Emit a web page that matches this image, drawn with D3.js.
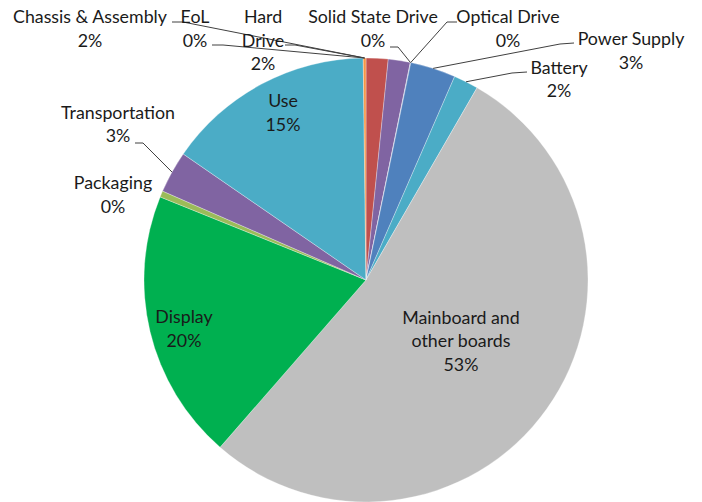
<!DOCTYPE html>
<html>
<head>
<meta charset="UTF-8" />
<title>Laptop impact breakdown</title>
<script src="https://cdn.jsdelivr.net/npm/d3@7"></script>
<style>
  body { margin: 0; background: #fff; }
  #chart text { font-family: 'Lato', 'Open Sans', sans-serif; font-size: 17.8px; fill: #1a1a1a; }
</style>
</head>
<body>
<div id="chart"></div>
<script>
  // slices in clockwise order from 12 o'clock (values in %)
  const categories = ['Chassis & Assembly', 'Hard Drive', 'Solid State Drive', 'Optical Drive',
    'Power Supply', 'Battery', 'Mainboard and other boards', 'Display', 'Packaging',
    'Transportation', 'Use', 'EoL']
  const values = [1.6, 1.6, 0.02, 0.02, 3.3, 1.8, 53.1, 19.7, 0.45, 3.05, 15.2, 0.2]
  const colors = ['#C0504D', '#8064A2', '#8064A2', '#4F81BD', '#4F81BD', '#4BACC6',
    '#BFBFBF', '#00B050', '#9BBB59', '#8064A2', '#4BACC6', '#F79646']
  // how each label is broken into lines
  const labelLines = {
    'Chassis & Assembly': ['Chassis & Assembly'],
    'Hard Drive': ['Hard', 'Drive'],
    'Mainboard and other boards': ['Mainboard and', 'other boards']
  }

  const width = 702, height = 502
  const cx = 366, cy = 280, radius = 222
  const lineH = 23.5

  // label layout: x = centre of text, y = baseline of first line,
  // lead = start of leader line (label side), anchor = slice the line points to
  const layout = {
    'Chassis & Assembly': { x: 90, y: 23, lead: [[172, 22], [183, 22]], anchor: 'EoL' },
    'EoL': { x: 195, y: 23, lead: [[212, 45], [223, 45]], anchor: 'EoL' },
    'Hard Drive': { x: 263, y: 23, lead: [[285, 45], [295, 45]], anchor: 'EoL' },
    'Solid State Drive': { x: 373, y: 23, lead: [[390, 47], [398, 47]], anchor: 'Solid State Drive' },
    'Optical Drive': { x: 508, y: 23, lead: [[457, 22], [447, 22]], anchor: 'Optical Drive' },
    'Power Supply': { x: 631, y: 45, lead: [[574, 43], [560, 44]], anchor: 'Power Supply' },
    'Battery': { x: 559, y: 73.5, lead: [[527, 72], [512, 73]], anchor: 'Battery' },
    'Mainboard and other boards': { x: 461, y: 323.5 },
    'Display': { x: 184, y: 323 },
    'Packaging': { x: 113, y: 189 },
    'Transportation': { x: 118, y: 118.5, lead: [[135, 143], [143, 143]], anchor: 'Transportation' },
    'Use': { x: 283, y: 107 }
  }

  const data = categories.map((c, i) => ({ name: c, value: values[i], color: colors[i] }))

  const svg = d3.select('#chart').append('svg')
    .attr('width', width)
    .attr('height', height)

  const pie = d3.pie().sort(null).value(d => d.value)
  const arcs = pie(data)
  const arc = d3.arc().innerRadius(0).outerRadius(radius)

  const g = svg.append('g').attr('transform', `translate(${cx},${cy})`)

  g.selectAll('path')
    .data(arcs)
    .enter()
    .append('path')
    .attr('d', arc)
    .attr('fill', d => d.data.color)
    .attr('stroke', '#fff')
    .attr('stroke-width', 0.5)
    .attr('stroke-opacity', 0.6)

  // point on the rim at the middle of a slice
  function rimPoint(name) {
    const a = arcs.find(d => d.data.name === name)
    const mid = (a.startAngle + a.endAngle) / 2
    return [cx + radius * Math.sin(mid), cy - radius * Math.cos(mid)]
  }

  // leader lines
  const line = d3.line()
  arcs.forEach(a => {
    const l = layout[a.data.name]
    if (!l || !l.lead) return
    svg.append('path')
      .attr('d', line([...l.lead, rimPoint(l.anchor)]))
      .attr('fill', 'none')
      .attr('stroke', '#404040')
      .attr('stroke-width', 1)
  })

  // labels
  arcs.forEach(a => {
    const l = layout[a.data.name]
    const lines = (labelLines[a.data.name] || [a.data.name]).concat(Math.round(a.data.value) + '%')
    const t = svg.append('text')
      .attr('text-anchor', 'middle')
    lines.forEach((s, i) => {
      t.append('tspan')
        .attr('x', l.x)
        .attr('y', l.y + i * lineH)
        .text(s)
    })
  })
</script>
</body>
</html>
